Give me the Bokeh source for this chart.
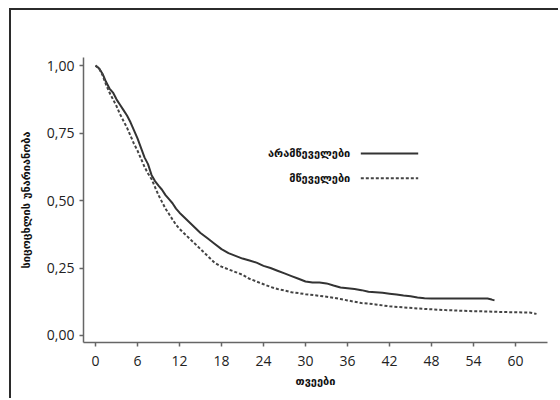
from bokeh.plotting import figure
from bokeh.models import Range1d, FixedTicker, GlobalInlineStyleSheet
from bokeh.core.properties import value
from bokeh.embed import file_html
from bokeh.resources import INLINE

# --- data ---
months_nonsmokers = [0, 0.5, 1, 1.5, 2, 2.5, 3, 3.5, 4, 4.5, 5, 5.5, 6, 6.5, 7, 7.5, 8, 8.5,
                     9, 9.5, 10, 10.5, 11, 11.5, 12, 13, 14, 15, 16, 17, 18, 19, 20, 21, 22,
                     23, 24, 25, 26, 27, 28, 29, 30, 31, 32, 33, 34, 35, 36, 37, 38, 39, 40,
                     41, 42, 43, 44, 45, 46, 47, 48, 50, 52, 54, 56, 56.6, 57]
surv_nonsmokers = [1.0, 0.99, 0.97, 0.94, 0.915, 0.9, 0.875, 0.855, 0.835, 0.815, 0.79, 0.76,
                   0.73, 0.695, 0.66, 0.635, 0.595, 0.572, 0.555, 0.54, 0.52, 0.505, 0.49,
                   0.47, 0.455, 0.43, 0.405, 0.38, 0.36, 0.34, 0.32, 0.305, 0.295, 0.285,
                   0.278, 0.27, 0.258, 0.25, 0.24, 0.23, 0.22, 0.21, 0.2, 0.196, 0.196, 0.193,
                   0.185, 0.178, 0.175, 0.172, 0.168, 0.162, 0.16, 0.158, 0.155, 0.152, 0.148,
                   0.145, 0.141, 0.138, 0.137, 0.137, 0.137, 0.137, 0.137, 0.133, 0.13]

months_smokers = [0, 0.5, 1, 1.5, 2, 2.5, 3, 3.5, 4, 4.5, 5, 5.5, 6, 6.5, 7, 7.5, 8, 8.5, 9,
                  9.5, 10, 10.5, 11, 11.5, 12, 13, 14, 15, 16, 17, 18, 19, 20, 21, 22, 23, 24,
                  25, 26, 27, 28, 29, 30, 32, 34, 35, 36, 37, 38, 39, 40, 42, 44, 46, 48, 50,
                  52, 54, 56, 58, 60, 62, 63]
surv_smokers = [1.0, 0.99, 0.965, 0.93, 0.9, 0.875, 0.85, 0.82, 0.795, 0.77, 0.74, 0.71,
                0.685, 0.655, 0.625, 0.6, 0.58, 0.55, 0.52, 0.495, 0.47, 0.45, 0.43, 0.41,
                0.395, 0.37, 0.345, 0.32, 0.295, 0.27, 0.255, 0.245, 0.235, 0.225, 0.21, 0.2,
                0.19, 0.18, 0.172, 0.167, 0.16, 0.157, 0.153, 0.147, 0.14, 0.135, 0.13, 0.125,
                0.12, 0.118, 0.115, 0.108, 0.104, 0.1, 0.097, 0.094, 0.092, 0.09, 0.089,
                0.087, 0.086, 0.085, 0.08]

x_ticks = [0, 6, 12, 18, 24, 30, 36, 42, 48, 54, 60]
y_ticks = [0.0, 0.25, 0.5, 0.75, 1.0]
y_tick_labels = ["0,00", "0,25", "0,50", "0,75", "1,00"]
legend_labels = ["არამწეველები", "მწეველები"]
x_label = "თვეები"
y_label = "სიცოცხლის უნარიანობა"

# --- layout constants ---
LEG_TEXT_X = 36.4
LEG_LINE_X0, LEG_LINE_X1 = 37.9, 46.1
LEG_Y = [0.674, 0.583]

p = figure(width=549, height=390,
           x_range=Range1d(-1.714, 64.57), y_range=Range1d(-0.026, 1.03),
           output_backend="svg", toolbar_location=None,
           min_border_left=72, min_border_right=13, min_border_top=47, min_border_bottom=58)
p.margin = (8, 0, 0, 9)
p.styles = {"border-top": "2px solid #2b2b2b", "border-left": "2px solid #2b2b2b"}
p.stylesheets = [GlobalInlineStyleSheet(css="html, body { overflow: hidden !important; margin: 0; }")]
p.outline_line_color = None
p.grid.visible = False
p.background_fill_color = "white"
p.border_fill_color = "white"

p.line(months_nonsmokers, surv_nonsmokers, line_color="#333333", line_width=2,
       line_join="round")
p.line(months_smokers, surv_smokers, line_color="#444444", line_width=2,
       line_dash="3 2")

# legend drawn manually (text left of sample line)
p.text(x=[LEG_TEXT_X, LEG_TEXT_X], y=LEG_Y, text=legend_labels,
       text_font=value("DejaVu Sans"), text_font_style="bold", text_font_size=value("11px"),
       text_align="right", text_baseline="middle", text_color="#111111")
p.line([LEG_LINE_X0, LEG_LINE_X1], [LEG_Y[0], LEG_Y[0]], line_color="#333333", line_width=2)
p.line([LEG_LINE_X0, LEG_LINE_X1], [LEG_Y[1], LEG_Y[1]], line_color="#444444", line_width=2,
       line_dash="3 2")

p.xaxis.ticker = FixedTicker(ticks=x_ticks)
p.yaxis.ticker = FixedTicker(ticks=y_ticks)
p.yaxis.major_label_overrides = {v: l for v, l in zip(y_ticks, y_tick_labels)}
p.xaxis.axis_label = x_label
p.yaxis.axis_label = y_label

for ax in (p.xaxis, p.yaxis):
    ax.axis_line_color = "#666666"
    ax.axis_line_width = 1.5
    ax.major_tick_line_color = "#666666"
    ax.major_tick_line_width = 1.5
    ax.major_tick_in = 0
    ax.major_tick_out = 4
    ax.minor_tick_line_color = None
    ax.major_label_text_font = "Open Sans"
    ax.major_label_text_font_size = "14px"
    ax.major_label_text_color = "#222222"
    ax.axis_label_text_font = "DejaVu Sans"
    ax.axis_label_text_font_style = "bold"
    ax.axis_label_text_font_size = "11px"
    ax.axis_label_text_color = "#111111"

p.xaxis.major_label_standoff = 9
p.yaxis.major_label_standoff = 5
p.xaxis.axis_label_standoff = 6
p.yaxis.axis_label_standoff = 11

open("out.html", "w").write(file_html(p, INLINE))
